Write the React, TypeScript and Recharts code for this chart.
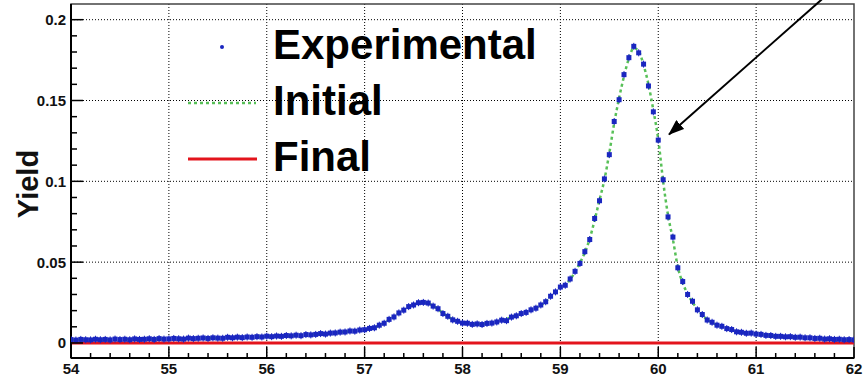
import { ComposedChart, CartesianGrid, Line, ReferenceArea, ReferenceLine, Scatter, XAxis, YAxis } from "recharts";

// spectrum sampled every 0.05 from 54 to 62
const X_START = 54;
const X_STEP = 0.05;

const experimental = [
  0.0021, 0.0018, 0.0022, 0.002, 0.0019, 0.0023, 0.002, 0.0022, 0.0019, 0.0024, 0.0021, 0.0023, 0.002, 0.0025, 0.0022, 0.0023, 0.0026, 0.0022, 0.0027, 0.0024,
  0.0025, 0.0028, 0.0026, 0.0024, 0.003, 0.0027, 0.0029, 0.0031, 0.0028, 0.0032, 0.003, 0.0029, 0.0035, 0.0032, 0.0036, 0.0033, 0.0037, 0.0035, 0.0039, 0.0037,
  0.0042, 0.0039, 0.0043, 0.0041, 0.0046, 0.0044, 0.0048, 0.0045, 0.0052, 0.005, 0.0053, 0.0058, 0.0055, 0.0061, 0.0062, 0.0067, 0.0068, 0.0074, 0.0073, 0.008,
  0.0082, 0.009, 0.0094, 0.011, 0.0122, 0.0146, 0.0161, 0.0186, 0.0203, 0.0225, 0.0235, 0.0249, 0.0251, 0.0247, 0.0228, 0.0212, 0.0182, 0.0165, 0.0143, 0.0134,
  0.0123, 0.0122, 0.0115, 0.0118, 0.0114, 0.0121, 0.0123, 0.013, 0.0141, 0.0138, 0.016, 0.0168, 0.0182, 0.0189, 0.0205, 0.0215, 0.0235, 0.0255, 0.0289, 0.0316,
  0.0346, 0.0357, 0.0396, 0.0443, 0.0492, 0.0565, 0.064, 0.077, 0.088, 0.1015, 0.1165, 0.137, 0.1505, 0.166, 0.1765, 0.1835, 0.1795, 0.1725, 0.159, 0.143,
  0.1255, 0.101, 0.078, 0.0655, 0.0465, 0.038, 0.03, 0.0258, 0.0205, 0.0176, 0.0142, 0.0128, 0.011, 0.0103, 0.0089, 0.0083, 0.0069, 0.0066, 0.006, 0.0061,
  0.0055, 0.0053, 0.0047, 0.0046, 0.0041, 0.0041, 0.0038, 0.0039, 0.0035, 0.0036, 0.0032, 0.0032, 0.0028, 0.0029, 0.0024, 0.0026, 0.0022, 0.0023, 0.002, 0.0021,
  0.0019,
];

const initial = [
  0.002, 0.002, 0.002, 0.0021, 0.0021, 0.0021, 0.0021, 0.0022, 0.0022, 0.0022, 0.0022, 0.0023, 0.0023, 0.0023, 0.0024, 0.0024, 0.0024, 0.0025, 0.0025, 0.0026,
  0.0026, 0.0027, 0.0027, 0.0028, 0.0028, 0.0029, 0.0029, 0.003, 0.003, 0.0031, 0.0031, 0.0032, 0.0033, 0.0034, 0.0034, 0.0035, 0.0036, 0.0037, 0.0038, 0.0039,
  0.004, 0.0041, 0.0042, 0.0043, 0.0044, 0.0046, 0.0047, 0.0049, 0.005, 0.0052, 0.0054, 0.0056, 0.0058, 0.006, 0.0063, 0.0066, 0.0069, 0.0072, 0.0075, 0.0079,
  0.0083, 0.0088, 0.0096, 0.0108, 0.0124, 0.0143, 0.0163, 0.0184, 0.0204, 0.0222, 0.0237, 0.0247, 0.025, 0.0245, 0.023, 0.0209, 0.0185, 0.0163, 0.0145, 0.0133,
  0.0125, 0.012, 0.0117, 0.0116, 0.0117, 0.012, 0.0125, 0.0132, 0.014, 0.0149, 0.0159, 0.017, 0.018, 0.0191, 0.0203, 0.0217, 0.0233, 0.0256, 0.0287, 0.0318,
  0.0345, 0.036, 0.0393, 0.044, 0.0495, 0.056, 0.0645, 0.076, 0.0885, 0.101, 0.1175, 0.136, 0.1515, 0.165, 0.176, 0.1825, 0.1805, 0.172, 0.16, 0.144,
  0.126, 0.1, 0.079, 0.064, 0.047, 0.037, 0.0305, 0.0252, 0.021, 0.0172, 0.0145, 0.0125, 0.0112, 0.0101, 0.0091, 0.0081, 0.0071, 0.0065, 0.0062, 0.0059,
  0.0056, 0.0052, 0.0048, 0.0045, 0.0042, 0.004, 0.0039, 0.0038, 0.0036, 0.0035, 0.0033, 0.0031, 0.0029, 0.0027, 0.0025, 0.0024, 0.0023, 0.0022, 0.0021, 0.002,
  0.0019,
];

// the final curve is flat at zero over the whole range
const finalX = [54, 62];
const finalY = [0, 0];

const yTicks = [
  0, 0.01, 0.02, 0.03, 0.04, 0.05, 0.06, 0.07, 0.08, 0.09, 0.1,
  0.11, 0.12, 0.13, 0.14, 0.15, 0.16, 0.17, 0.18, 0.19, 0.2,
];
const yMajor = [0, 0.05, 0.1, 0.15, 0.2];
const xMajor = [54, 55, 56, 57, 58, 59, 60, 61, 62];

// arrow annotation pointing at the falling edge of the peak
const arrowFrom = { x: 61.67, y: 0.2125 };
const arrowTo = { x: 60.11, y: 0.129 };

const xTicks = Array.from({ length: 41 }, (_, i) => +(54 + i * 0.2).toFixed(1));

const expData = experimental.map((y, i) => ({ x: +(X_START + i * X_STEP).toFixed(2), y }));
const initData = initial.map((y, i) => ({ x: +(X_START + i * X_STEP).toFixed(2), y }));
const finalData = finalX.map((x, i) => ({ x, y: finalY[i] }));

const FONT = "'Liberation Sans', Arial, Helvetica, sans-serif";
const BLUE = "#1a26c0";
const GREEN = "#58c058";
const RED = "#e3141c";

const isMajor = (v: number, majors: number[]) => majors.some((m) => Math.abs(m - v) < 1e-6);

const YTick = (props: any) => {
  const { x, y, payload } = props;
  const major = isMajor(payload.value, yMajor);
  return (
    <g>
      <line x1={x} x2={x + (major ? 12 : 6)} y1={y} y2={y} stroke="#000" strokeWidth={1.5} />
      {major && (
        <text x={x - 5} y={y} dy="0.36em" textAnchor="end" fontFamily={FONT} fontWeight="bold" fontSize={15} fill="#111">
          {payload.value}
        </text>
      )}
    </g>
  );
};

const XTick = (props: any) => {
  const { x, y, payload } = props;
  const major = isMajor(payload.value, xMajor);
  return (
    <g>
      <line x1={x} x2={x} y1={y} y2={y - (major ? 11 : 5)} stroke="#000" strokeWidth={1.5} />
      {major && (
        <text x={x} y={y + 16} textAnchor="middle" fontFamily={FONT} fontWeight="bold" fontSize={15} fill="#111">
          {payload.value}
        </text>
      )}
    </g>
  );
};

const Point = (props: any) => {
  const { cx, cy } = props;
  if (cx == null || cy == null) return null;
  return (
    <g>
      <line x1={cx} x2={cx} y1={cy - 3.5} y2={cy + 3.5} stroke={BLUE} strokeWidth={1} />
      <rect x={cx - 2.5} y={cy - 2.5} width={5} height={5} fill={BLUE} />
    </g>
  );
};

const legendRows = [
  { label: "Experimental", kind: "point" },
  { label: "Initial", kind: "dotted" },
  { label: "Final", kind: "solid" },
];

function LegendMarker({ kind }: { kind: string }) {
  return (
    <svg width={69} height={56} style={{ display: "block" }}>
      {kind === "point" && <circle cx={34} cy={30} r={2} fill={BLUE} />}
      {kind === "dotted" && (
        <line x1={0} x2={68} y1={30} y2={30} stroke={GREEN} strokeWidth={2.5} strokeDasharray="3 3" />
      )}
      {kind === "solid" && <line x1={0} x2={69} y1={30} y2={30} stroke={RED} strokeWidth={3} />}
    </svg>
  );
}

const YieldLabel = (p: any) => {
  const vb = p.viewBox || { x: 0, y: 4, width: 71, height: 354 };
  const cx = vb.x + vb.width - 33;
  const cy = vb.y + vb.height / 2 + 3;
  return (
    <text
      x={cx}
      y={cy}
      transform={`rotate(-90 ${cx} ${cy})`}
      textAnchor="middle"
      fontFamily={FONT}
      fontWeight="bold"
      fontSize={29}
      fill="#111"
    >
      Yield
    </text>
  );
};

export default function App() {
  return (
    <div style={{ position: "absolute", left: 0, top: 0, width: 866, height: 384, background: "#fff" }}>
      <ComposedChart width={866} height={384} margin={{ top: 4, right: 12, bottom: 0, left: 0 }}>
        <defs>
          <marker id="arrowHead" viewBox="0 0 16 12" refX={15} refY={6} markerWidth={16} markerHeight={12} markerUnits="userSpaceOnUse" orient="auto">
            <path d="M0,0 L16,6 L0,12 z" fill="#000" />
          </marker>
        </defs>
        <CartesianGrid
          stroke="#000"
          strokeDasharray="1 2"
          strokeWidth={1}
          verticalValues={[55, 56, 57, 58, 59, 60, 61]}
          horizontalValues={[0.05, 0.1, 0.15, 0.2]}
        />
        <XAxis
          type="number"
          dataKey="x"
          domain={[54, 62]}
          ticks={xTicks}
          interval={0}
          allowDataOverflow
          height={26}
          tickSize={0}
          tickMargin={0}
          tickLine={false}
          axisLine={{ stroke: "#000", strokeWidth: 2 }}
          tick={<XTick />}
        />
        <YAxis
          type="number"
          dataKey="y"
          domain={[-0.0093, 0.2097]}
          ticks={yTicks}
          interval={0}
          allowDataOverflow
          width={71}
          tickSize={0}
          tickMargin={0}
          tickLine={false}
          axisLine={{ stroke: "#000", strokeWidth: 2 }}
          tick={<YTick />}
          label={{ content: <YieldLabel /> }}
        />
        <ReferenceArea x1={54} x2={62} y1={-0.0093} y2={0.2097} fill="none" stroke="#444" strokeWidth={1.5} ifOverflow="visible" />
        <Line
          data={initData}
          dataKey="y"
          type="monotone"
          stroke={GREEN}
          strokeWidth={2.5}
          strokeDasharray="3 3"
          dot={false}
          activeDot={false}
          isAnimationActive={false}
        />
        <Scatter data={expData} dataKey="y" shape={<Point />} isAnimationActive={false} />
        <Line
          data={finalData}
          dataKey="y"
          type="linear"
          stroke={RED}
          strokeWidth={3}
          dot={false}
          activeDot={false}
          isAnimationActive={false}
        />
        <ReferenceLine
          segment={[arrowFrom, arrowTo]}
          stroke="#000"
          strokeWidth={2}
          ifOverflow="visible"
          markerEnd="url(#arrowHead)"
        />
      </ComposedChart>
      <div style={{ position: "absolute", left: 188, top: 17, fontFamily: FONT, fontWeight: "bold", fontSize: 42, lineHeight: "56px", color: "#000" }}>
        {legendRows.map((r) => (
          <div key={r.label} style={{ display: "flex", alignItems: "flex-start", height: 56 }}>
            <LegendMarker kind={r.kind} />
            <span style={{ marginLeft: 16, whiteSpace: "nowrap" }}>{r.label}</span>
          </div>
        ))}
      </div>
    </div>
  );
}
